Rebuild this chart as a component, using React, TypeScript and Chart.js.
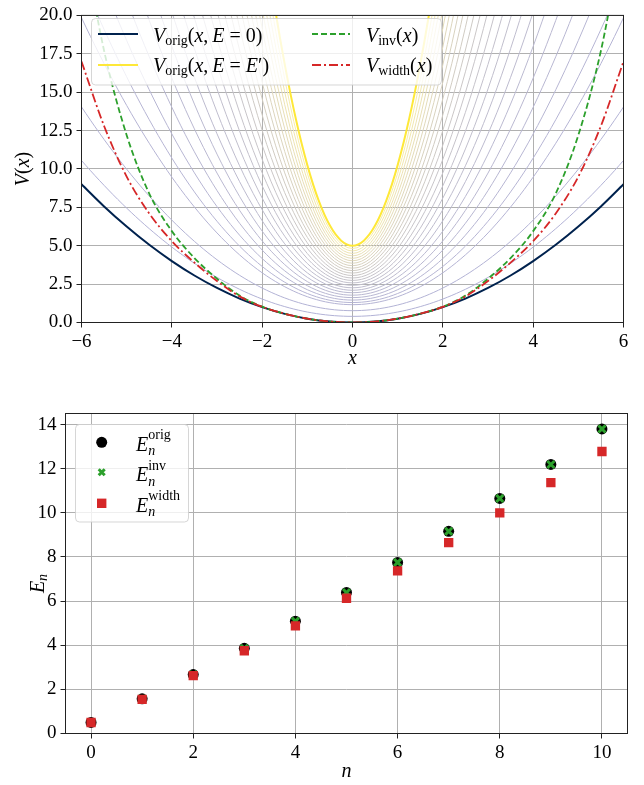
import React, { useEffect, useRef } from 'react';
import { Chart, registerables } from 'chart.js';
Chart.register(...registerables);

const SERIF = '"Liberation Serif", "Times New Roman", "DejaVu Serif", serif';

// ---------- Top panel data ----------
const X_VALUES = [-6, -5.5, -5, -4.5, -4, -3.5, -3, -2.5, -2, -1.5, -1, -0.5, 0, 0.5, 1, 1.5, 2, 2.5, 3, 3.5, 4, 4.5, 5, 5.5, 6];
const V_ORIG_E0 = [9, 7.56, 6.25, 5.06, 4, 3.06, 2.25, 1.56, 1, 0.56, 0.25, 0.06, 0, 0.06, 0.25, 0.56, 1, 1.56, 2.25, 3.06, 4, 5.06, 6.25, 7.56, 9];
const V_INV = [25.5, 17.7, 12.2, 8.4, 5.95, 4.2, 2.85, 1.75, 1.03, 0.57, 0.25, 0.063, 0, 0.063, 0.25, 0.57, 1.03, 1.75, 2.85, 4.2, 5.95, 8.4, 12.2, 17.7, 25.5];
const V_WIDTH = [17.0, 12.8, 9.5, 7.1, 5.3, 3.9, 2.7, 1.7, 1.02, 0.57, 0.25, 0.063, 0, 0.063, 0.25, 0.57, 1.02, 1.7, 2.7, 3.9, 5.3, 7.1, 9.5, 12.8, 17.0];
const X_EPRIME = [-2, -1.75, -1.5, -1.25, -1, -0.75, -0.5, -0.25, 0, 0.25, 0.5, 0.75, 1, 1.25, 1.5, 1.75, 2];
const V_ORIG_EPRIME = [26, 21.08, 16.81, 13.2, 10.25, 7.95, 6.31, 5.33, 5, 5.33, 6.31, 7.95, 10.25, 13.2, 16.81, 21.08, 26];
// intermediate energies of the V_orig(x, E) family (0 < E < E' = 5)
const E_LEVELS = [0.4, 0.77, 1.16, 1.3, 1.46, 1.62, 1.78, 1.94, 2.1, 2.26, 2.42, 2.58, 2.74, 2.9, 3.06, 3.22, 3.38, 3.54, 3.7, 3.86, 4.02, 4.18, 4.34, 4.5, 4.66, 4.82];

const TOP_X_TICKS = [-6, -4, -2, 0, 2, 4, 6];
const TOP_X_LABELS = ['\u22126', '\u22124', '\u22122', '0', '2', '4', '6'];
const TOP_Y_TICKS = [0, 2.5, 5, 7.5, 10, 12.5, 15, 17.5, 20];
const TOP_Y_LABELS = ['0.0', '2.5', '5.0', '7.5', '10.0', '12.5', '15.0', '17.5', '20.0'];

// ---------- Bottom panel data ----------
const N_LEVELS = [0, 1, 2, 3, 4, 5, 6, 7, 8, 9, 10];
const E_ORIG = [0.5, 1.57, 2.67, 3.86, 5.09, 6.39, 7.75, 9.16, 10.65, 12.19, 13.8];
const E_INV = [0.5, 1.57, 2.67, 3.86, 5.09, 6.39, 7.75, 9.16, 10.65, 12.19, 13.8];
const E_WIDTH = [0.5, 1.55, 2.62, 3.75, 4.88, 6.13, 7.37, 8.65, 10.0, 11.37, 12.78];

const BOT_X_TICKS = [0, 2, 4, 6, 8, 10];
const BOT_X_LABELS = ['0', '2', '4', '6', '8', '10'];
const BOT_Y_TICKS = [0, 2, 4, 6, 8, 10, 12, 14];
const BOT_Y_LABELS = ['0', '2', '4', '6', '8', '10', '12', '14'];

// ---------- helpers ----------
function vFamily(x: number, E: number) {
  return E + x * x * (0.25 + 0.2 * E * E);
}

function familyColor(t: number) {
  const s = Math.pow(t, 2.2);
  const a = [178, 178, 214];
  const b = [252, 240, 170];
  const c = a.map((v, i) => Math.round(v + (b[i] - v) * s));
  return `rgb(${c[0]},${c[1]},${c[2]})`;
}

type Seg = { t: string; it?: boolean; sub?: boolean; sup?: string; sub2?: string };

function fnt(size: number, it?: boolean) {
  return `${it ? 'italic ' : ''}${size}px ${SERIF}`;
}

function richWidth(ctx: CanvasRenderingContext2D, segs: Seg[], size: number) {
  const ss = Math.round(size * 0.7);
  let w = 0;
  for (const s of segs) {
    ctx.font = fnt(s.sub ? ss : size, s.it);
    w += ctx.measureText(s.t).width;
    if (s.sup || s.sub2) {
      ctx.font = fnt(ss, false);
      const w1 = s.sup ? ctx.measureText(s.sup).width : 0;
      ctx.font = fnt(ss, true);
      const w2 = s.sub2 ? ctx.measureText(s.sub2).width : 0;
      w += Math.max(w1, w2);
    }
  }
  return w;
}

function drawRich(ctx: CanvasRenderingContext2D, segs: Seg[], x: number, y: number, size: number) {
  const ss = Math.round(size * 0.7);
  ctx.textBaseline = 'alphabetic';
  ctx.textAlign = 'left';
  ctx.fillStyle = '#000';
  let cx = x;
  for (const s of segs) {
    if (s.sub) {
      ctx.font = fnt(ss, s.it);
      ctx.fillText(s.t, cx, y + size * 0.17);
      cx += ctx.measureText(s.t).width;
      continue;
    }
    ctx.font = fnt(size, s.it);
    ctx.fillText(s.t, cx, y);
    cx += ctx.measureText(s.t).width;
    if (s.sup || s.sub2) {
      let w1 = 0;
      let w2 = 0;
      if (s.sup) {
        ctx.font = fnt(ss, false);
        ctx.fillText(s.sup, cx, y - size * 0.58);
        w1 = ctx.measureText(s.sup).width;
      }
      if (s.sub2) {
        ctx.font = fnt(ss, true);
        ctx.fillText(s.sub2, cx, y + size * 0.22);
        w2 = ctx.measureText(s.sub2).width;
      }
      cx += Math.max(w1, w2);
    }
  }
}

function drawRotated(ctx: CanvasRenderingContext2D, segs: Seg[], cx: number, cy: number, size: number, off: number) {
  ctx.save();
  ctx.translate(cx, cy);
  ctx.rotate(-Math.PI / 2);
  const w = richWidth(ctx, segs, size);
  drawRich(ctx, segs, -w / 2, off, size);
  ctx.restore();
}

function drawCentered(ctx: CanvasRenderingContext2D, segs: Seg[], cx: number, y: number, size: number) {
  const w = richWidth(ctx, segs, size);
  drawRich(ctx, segs, cx - w / 2, y, size);
}

function roundRect(ctx: CanvasRenderingContext2D, x: number, y: number, w: number, h: number, r: number) {
  ctx.beginPath();
  ctx.moveTo(x + r, y);
  ctx.lineTo(x + w - r, y);
  ctx.arcTo(x + w, y, x + w, y + r, r);
  ctx.lineTo(x + w, y + h - r);
  ctx.arcTo(x + w, y + h, x + w - r, y + h, r);
  ctx.lineTo(x + r, y + h);
  ctx.arcTo(x, y + h, x, y + h - r, r);
  ctx.lineTo(x, y + r);
  ctx.arcTo(x, y, x + r, y, r);
  ctx.closePath();
}

function legendLine(ctx: CanvasRenderingContext2D, x1: number, x2: number, y: number, color: string, w: number, dash: number[]) {
  ctx.save();
  ctx.strokeStyle = color;
  ctx.lineWidth = w;
  ctx.setLineDash(dash);
  ctx.beginPath();
  ctx.moveTo(x1, y);
  ctx.lineTo(x2, y);
  ctx.stroke();
  ctx.restore();
}

const framePlugin = {
  id: 'frame',
  afterDatasetsDraw(chart: any) {
    const { ctx, chartArea: a } = chart;
    ctx.save();
    ctx.strokeStyle = '#222';
    ctx.lineWidth = 1;
    ctx.setLineDash([]);
    ctx.strokeRect(a.left, a.top, a.right - a.left, a.bottom - a.top);
    ctx.restore();
  },
};

const TICK_FONT = { family: SERIF, size: 19 };
const LEG = 20;

function gridOpts() {
  return { color: '#b0b0b0', lineWidth: 1, tickColor: '#222', tickLength: 5, tickWidth: 1, drawTicks: true };
}

const topDecor = {
  id: 'topDecor',
  afterDraw(chart: any) {
    const ctx: CanvasRenderingContext2D = chart.ctx;
    const a = chart.chartArea;
    ctx.save();
    roundRect(ctx, 91.5, 18.5, 350, 66.5, 4);
    ctx.fillStyle = 'rgba(255,255,255,0.8)';
    ctx.fill();
    ctx.strokeStyle = 'rgba(204,204,204,0.8)';
    ctx.lineWidth = 1;
    ctx.stroke();
    legendLine(ctx, 98, 138, 34, '#00224e', 2, []);
    legendLine(ctx, 98, 138, 65, '#fee838', 2, []);
    legendLine(ctx, 312, 350, 34, '#2ca02c', 1.8, [6, 3]);
    legendLine(ctx, 312, 350, 65, '#d62728', 1.8, [9, 3, 2, 3]);
    drawRich(ctx, [{ t: 'V', it: true }, { t: 'orig', sub: true }, { t: '(' }, { t: 'x', it: true }, { t: ',\u2009' }, { t: 'E', it: true }, { t: ' = ' }, { t: '0' }, { t: ')' }], 153, 41.5, LEG);
    drawRich(ctx, [{ t: 'V', it: true }, { t: 'orig', sub: true }, { t: '(' }, { t: 'x', it: true }, { t: ',\u2009' }, { t: 'E', it: true }, { t: ' = ' }, { t: 'E', it: true }, { t: '\u2032' }, { t: ')' }], 153, 72, LEG);
    drawRich(ctx, [{ t: 'V', it: true }, { t: 'inv', sub: true }, { t: '(' }, { t: 'x', it: true }, { t: ')' }], 366, 41.5, LEG);
    drawRich(ctx, [{ t: 'V', it: true }, { t: 'width', sub: true }, { t: '(' }, { t: 'x', it: true }, { t: ')' }], 366, 72, LEG);
    drawRotated(ctx, [{ t: 'V', it: true }, { t: '(' }, { t: 'x', it: true }, { t: ')' }], 22, (a.top + a.bottom) / 2, LEG, 6.5);
    drawCentered(ctx, [{ t: 'x', it: true }], (a.left + a.right) / 2, 364, LEG);
    ctx.restore();
  },
};

const botDecor = {
  id: 'botDecor',
  afterDraw(chart: any) {
    const ctx: CanvasRenderingContext2D = chart.ctx;
    const a = chart.chartArea;
    ctx.save();
    roundRect(ctx, 75.5, 39.5, 113, 97.5, 4);
    ctx.fillStyle = 'rgba(255,255,255,0.8)';
    ctx.fill();
    ctx.strokeStyle = 'rgba(204,204,204,0.8)';
    ctx.lineWidth = 1;
    ctx.stroke();
    ctx.fillStyle = '#000';
    ctx.beginPath();
    ctx.arc(101.7, 57.3, 5.5, 0, Math.PI * 2);
    ctx.fill();
    ctx.strokeStyle = '#2ca02c';
    ctx.lineWidth = 3;
    ctx.beginPath();
    ctx.moveTo(98.7, 84.3); ctx.lineTo(104.7, 90.3);
    ctx.moveTo(104.7, 84.3); ctx.lineTo(98.7, 90.3);
    ctx.stroke();
    ctx.fillStyle = '#d62728';
    ctx.fillRect(101.7 - 4.7, 118.3 - 4.7, 9.4, 9.4);
    drawRich(ctx, [{ t: 'E', it: true, sup: 'orig', sub2: 'n' }], 136, 65.7, LEG);
    drawRich(ctx, [{ t: 'E', it: true, sup: 'inv', sub2: 'n' }], 136, 96.2, LEG);
    drawRich(ctx, [{ t: 'E', it: true, sup: 'width', sub2: 'n' }], 136, 126.7, LEG);
    drawRotated(ctx, [{ t: 'E', it: true }, { t: 'n', it: true, sub: true }], 37, (a.top + a.bottom) / 2 + 10, LEG, 6.5);
    drawCentered(ctx, [{ t: 'n', it: true }], (a.left + a.right) / 2, 392, LEG);
    ctx.restore();
  },
};

function pts(xs: number[], ys: number[]) {
  return xs.map((x, i) => ({ x, y: ys[i] }));
}

function topConfig(): any {
  const famX: number[] = [];
  for (let i = -60; i <= 60; i++) famX.push(i / 10);
  const family = E_LEVELS.map((E) => ({
    data: famX.map((x) => ({ x, y: vFamily(x, E) })),
    borderColor: familyColor(E / 5),
    borderWidth: 1,
    pointRadius: 0,
    fill: false,
    tension: 0,
  }));
  const main = [
    { data: pts(X_VALUES, V_WIDTH), borderColor: '#d62728', borderWidth: 1.8, borderDash: [9, 3, 2, 3], pointRadius: 0, fill: false, cubicInterpolationMode: 'monotone' },
    { data: pts(X_VALUES, V_INV), borderColor: '#2ca02c', borderWidth: 1.8, borderDash: [6, 3], pointRadius: 0, fill: false, cubicInterpolationMode: 'monotone' },
    { data: pts(X_VALUES, V_ORIG_E0), borderColor: '#00224e', borderWidth: 2, pointRadius: 0, fill: false, cubicInterpolationMode: 'monotone' },
    { data: pts(X_EPRIME, V_ORIG_EPRIME), borderColor: '#fee838', borderWidth: 2, pointRadius: 0, fill: false, cubicInterpolationMode: 'monotone' },
  ];
  return {
    type: 'line',
    data: { datasets: [...main, ...family] },
    options: {
      responsive: false,
      animation: false,
      events: [],
      layout: { padding: { left: 0, top: 8.5, right: 20.5, bottom: 0 } },
      plugins: { legend: { display: false }, tooltip: { enabled: false } },
      scales: {
        x: {
          type: 'linear', min: -6, max: 6,
          afterFit: (s: any) => { s.height = 62.5; },
          afterBuildTicks: (s: any) => { s.ticks = TOP_X_TICKS.map((v) => ({ value: v })); },
          ticks: { callback: (_v: any, i: number) => TOP_X_LABELS[i], font: TICK_FONT, color: '#000', padding: 3, maxRotation: 0, autoSkip: false },
          grid: gridOpts(),
          border: { display: false },
        },
        y: {
          type: 'linear', min: 0, max: 20,
          afterFit: (s: any) => { s.width = 81.5; },
          afterBuildTicks: (s: any) => { s.ticks = TOP_Y_TICKS.map((v) => ({ value: v })); },
          ticks: { callback: (_v: any, i: number) => TOP_Y_LABELS[i], font: TICK_FONT, color: '#000', padding: 4, autoSkip: false },
          grid: gridOpts(),
          border: { display: false },
        },
      },
    },
    plugins: [framePlugin, topDecor],
  };
}

function botConfig(): any {
  return {
    type: 'scatter',
    data: {
      datasets: [
        { data: pts(N_LEVELS, E_WIDTH), pointStyle: 'rect', pointRadius: 6.6, backgroundColor: '#d62728', borderWidth: 0 },
        { data: pts(N_LEVELS, E_INV), pointStyle: 'crossRot', pointRadius: 5, borderColor: '#2ca02c', backgroundColor: '#2ca02c', borderWidth: 3 },
        { data: pts(N_LEVELS, E_ORIG), pointStyle: 'circle', pointRadius: 5.5, backgroundColor: '#000', borderWidth: 0 },
      ],
    },
    options: {
      responsive: false,
      animation: false,
      events: [],
      layout: { padding: { left: 0, top: 28.5, right: 16.5, bottom: 0 } },
      plugins: { legend: { display: false }, tooltip: { enabled: false } },
      scales: {
        x: {
          type: 'linear', min: -0.5, max: 10.5,
          afterFit: (s: any) => { s.height = 51.5; },
          afterBuildTicks: (s: any) => { s.ticks = BOT_X_TICKS.map((v) => ({ value: v })); },
          ticks: { callback: (_v: any, i: number) => BOT_X_LABELS[i], font: TICK_FONT, color: '#000', padding: 3, maxRotation: 0, autoSkip: false },
          grid: gridOpts(),
          border: { display: false },
        },
        y: {
          type: 'linear', min: 0, max: 14.5,
          afterFit: (s: any) => { s.width = 65.5; },
          afterBuildTicks: (s: any) => { s.ticks = BOT_Y_TICKS.map((v) => ({ value: v })); },
          ticks: { callback: (_v: any, i: number) => BOT_Y_LABELS[i], font: TICK_FONT, color: '#000', padding: 4, autoSkip: false },
          grid: gridOpts(),
          border: { display: false },
        },
      },
    },
    plugins: [framePlugin, botDecor],
  };
}

export default function App() {
  const topRef = useRef<HTMLCanvasElement>(null);
  const botRef = useRef<HTMLCanvasElement>(null);
  useEffect(() => {
    const c1 = new Chart(topRef.current as HTMLCanvasElement, topConfig());
    const c2 = new Chart(botRef.current as HTMLCanvasElement, botConfig());
    return () => {
      c1.destroy();
      c2.destroy();
    };
  }, []);
  return (
    <div style={{ position: 'absolute', left: 0, top: 0, width: 644, height: 785, background: '#fff' }}>
      <canvas ref={topRef} width={644} height={385} style={{ position: 'absolute', left: 0, top: 0, width: 644, height: 385 }} />
      <canvas ref={botRef} width={644} height={400} style={{ position: 'absolute', left: 0, top: 385, width: 644, height: 400 }} />
    </div>
  );
}
